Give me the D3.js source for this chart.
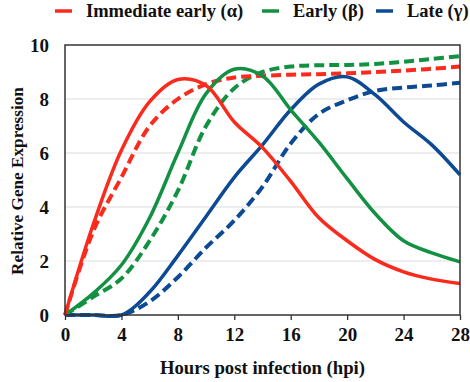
<!DOCTYPE html>
<html>
<head>
<meta charset="utf-8">
<script src="https://cdn.jsdelivr.net/npm/d3@7"></script>
<style>
  body { margin: 0; background: #fff; }
  text { font-family: "Liberation Serif", "Times New Roman", serif; font-weight: bold; fill: #111; }
</style>
</head>
<body>
<svg width="470" height="382"></svg>
<script>
// hours post infection
var hours = [0, 2, 4, 6, 8, 10, 12, 14, 16, 18, 20, 22, 24, 26, 28];

// solid = measured, dashed = model
var ieSolid   = [0, 3.35, 6.1, 7.9, 8.72, 8.5, 7.15, 6.2, 4.95, 3.6, 2.75, 2.05, 1.6, 1.33, 1.17];
var ieDashed  = [0, 3.1, 5.1, 7.0, 8.0, 8.55, 8.8, 8.86, 8.9, 8.92, 8.95, 9.0, 9.05, 9.12, 9.2];
var eSolid    = [0, 0.8, 1.85, 3.6, 6.0, 8.2, 9.1, 8.85, 7.6, 6.4, 5.05, 3.75, 2.75, 2.3, 1.97];
var eDashed   = [0, 0.67, 1.35, 2.75, 4.6, 7.0, 8.4, 9.0, 9.2, 9.25, 9.26, 9.3, 9.38, 9.48, 9.59];
var lSolid    = [0, 0, 0, 0.85, 2.2, 3.65, 5.1, 6.3, 7.6, 8.55, 8.82, 8.15, 7.15, 6.3, 5.19];
var lDashed   = [0, 0, 0, 0.5, 1.4, 2.5, 3.5, 4.75, 6.35, 7.45, 7.95, 8.3, 8.42, 8.5, 8.6];

var xTicks = [0, 4, 8, 12, 16, 20, 24, 28];
var yTicks = [0, 2, 4, 6, 8, 10];
var legendNames = ["Immediate early (\u03b1)", "Early (\u03b2)", "Late (\u03b3)"];

var red = "#fa2a1c", green = "#139143", blue = "#0c4a94";

var series = [
  {vals: eDashed, color: green, dash: true},
  {vals: ieDashed, color: red, dash: true},
  {vals: lDashed, color: blue, dash: true},
  {vals: lSolid, color: blue, dash: false},
  {vals: eSolid, color: green, dash: false},
  {vals: ieSolid, color: red, dash: false}
];

var svg = d3.select('svg');
var pLeft = 65, pRight = 460, pTop = 45, pBottom = 315;

var x = d3.scaleLinear().domain([0, 28]).range([pLeft, pRight]);
var y = d3.scaleLinear().domain([0, 10]).range([pBottom, pTop]);

// gridlines
svg.append('g')
  .selectAll('line')
  .data(yTicks.filter(function(d){ return d > 0 && d < 10; }))
  .enter().append('line')
  .attr('x1', pLeft).attr('x2', pRight)
  .attr('y1', function(d){ return y(d); })
  .attr('y2', function(d){ return y(d); })
  .attr('stroke', '#dcdcdc')
  .attr('stroke-width', 1.2);

var line = d3.line()
  .x(function(d, i){ return x(hours[i]); })
  .y(function(d){ return y(d); })
  .curve(d3.curveCatmullRom.alpha(0.5));

svg.append('g')
  .selectAll('path')
  .data(series)
  .enter().append('path')
  .attr('d', function(d){ return line(d.vals); })
  .attr('fill', 'none')
  .attr('stroke', function(d){ return d.color; })
  .attr('stroke-width', function(d){ return d.dash ? 4 : 3.5; })
  .attr('stroke-dasharray', function(d){ return d.dash ? '10,5' : null; });

// frame
svg.append('rect')
  .attr('x', pLeft).attr('y', pTop)
  .attr('width', pRight - pLeft).attr('height', pBottom - pTop)
  .attr('fill', 'none')
  .attr('stroke', '#333')
  .attr('stroke-width', 1.5);

// x axis
var xAxis = svg.append('g')
  .attr('transform', 'translate(0,' + pBottom + ')')
  .call(d3.axisBottom(x).tickValues(xTicks).tickSize(5).tickPadding(8));
xAxis.select('.domain').remove();
xAxis.selectAll('line').attr('stroke', '#333').attr('stroke-width', 1.3);
xAxis.selectAll('text').style('font-size', '19px').attr('fill', '#111')
  .style('font-family', '"Liberation Serif", serif').style('font-weight', 'bold');

// y axis
var yAxis = svg.append('g')
  .attr('transform', 'translate(' + pLeft + ',0)')
  .call(d3.axisLeft(y).tickValues(yTicks).tickSize(0).tickPadding(16));
yAxis.select('.domain').remove();
yAxis.selectAll('text').style('font-size', '19px').attr('fill', '#111')
  .style('font-family', '"Liberation Serif", serif').style('font-weight', 'bold');

// axis titles
svg.append('text')
  .attr('x', (pLeft + pRight) / 2).attr('y', 374)
  .attr('text-anchor', 'middle')
  .style('font-size', '18.7px')
  .text('Hours post infection (hpi)');

svg.append('text')
  .attr('transform', 'translate(23,181) rotate(-90)')
  .attr('text-anchor', 'middle')
  .style('font-size', '17.2px')
  .text('Relative Gene Expression');

// legend
var legX = [55, 262, 376];
var legColors = [red, green, blue];
var leg = svg.append('g').selectAll('g')
  .data(legendNames)
  .enter().append('g')
  .attr('transform', function(d, i){ return 'translate(' + legX[i] + ',0)'; });
leg.append('line')
  .attr('x1', 0).attr('x2', 17)
  .attr('y1', 11).attr('y2', 11)
  .attr('stroke', function(d, i){ return legColors[i]; })
  .attr('stroke-width', 3.5);
leg.append('text')
  .attr('x', 31).attr('y', 17)
  .style('font-size', '18.5px')
  .text(function(d){ return d; });
</script>
</body>
</html>
